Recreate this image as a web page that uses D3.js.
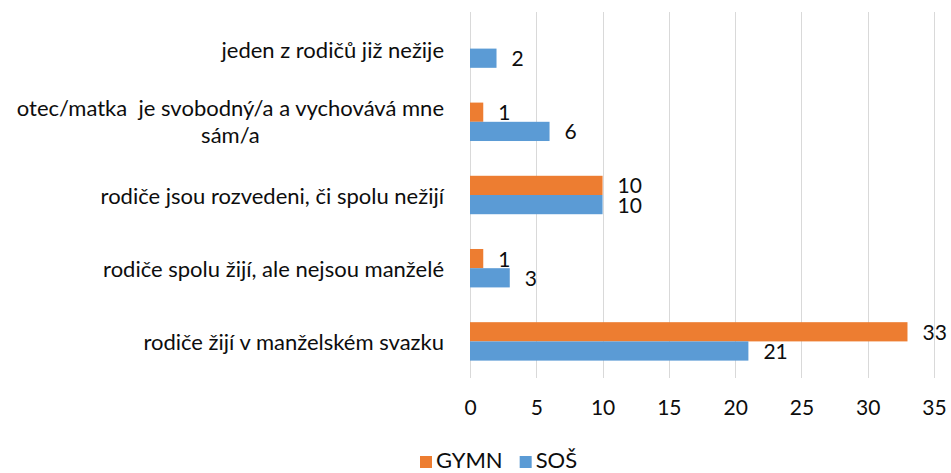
<!DOCTYPE html>
<html>
<head>
<meta charset="utf-8">
<script src="https://cdn.jsdelivr.net/npm/d3@7"></script>
<style>
  body { margin: 0; background: #fff; }
  text { font-family: Lato, "Open Sans", sans-serif; fill: #0d0d0d; }
</style>
</head>
<body>
<div id="chart"></div>
<script>
// data, top to bottom as drawn
const categories = [
  ['jeden z rodičů již nežije'],
  ['otec/matka  je svobodný/a a vychovává mne', 'sám/a'],
  ['rodiče jsou rozvedeni, či spolu nežijí'],
  ['rodiče spolu žijí, ale nejsou manželé'],
  ['rodiče žijí v manželském svazku']
];
const seriesNames = ['GYMN', 'SOŠ'];
const gymn = [null, 1, 10, 1, 33];
const sos = [2, 6, 10, 3, 21];
const xTicks = [0, 5, 10, 15, 20, 25, 30, 35];
const colors = ['#ED7D31', '#5B9BD5'];

const width = 951;
const height = 473;
const plot = { left: 470, right: 934, top: 12, bottom: 378 };
const fontSize = 22;

const svg = d3.select('#chart')
    .append('svg')
    .attr('width', width)
    .attr('height', height);

// scales
const x = d3.scaleLinear()
    .domain([0, 35])
    .range([plot.left, plot.right]);

const y = d3.scaleBand()
    .domain(d3.range(categories.length))
    .range([plot.top, plot.bottom])
    .paddingInner(0.475)
    .paddingOuter(0.2375);

const ySub = d3.scaleBand()
    .domain(seriesNames)
    .range([0, y.bandwidth()]);

// vertical gridlines
svg.append('g')
  .selectAll('line')
  .data(xTicks)
  .enter().append('line')
    .attr('x1', (d) => Math.round(x(d)) + 0.5)
    .attr('x2', (d) => Math.round(x(d)) + 0.5)
    .attr('y1', plot.top)
    .attr('y2', plot.bottom)
    .attr('stroke', '#d9d9d9')
    .attr('stroke-width', 1);

// x axis labels
const xAxis = d3.axisBottom(x).tickValues(xTicks).tickSize(0).tickPadding(0);
const gx = svg.append('g')
    .attr('transform', 'translate(0,' + (plot.bottom + 22) + ')')
    .call(xAxis);
gx.select('.domain').remove();
gx.selectAll('text')
    .attr('font-size', 21)
    .attr('font-family', 'Lato, "Open Sans", sans-serif')
    .attr('fill', '#0d0d0d');

// bars
const rows = categories.map((c, i) => ({ i: i, values: [gymn[i], sos[i]] }));

const groups = svg.selectAll('.group')
    .data(rows)
    .enter().append('g')
    .attr('class', 'group')
    .attr('transform', (d) => 'translate(0,' + y(d.i) + ')');

const cells = groups.selectAll('.cell')
    .data((d) => d.values.map((v, k) => ({ name: seriesNames[k], k: k, value: v }))
      .filter((e) => e.value !== null))
    .enter().append('g')
    .attr('class', 'cell');

cells.append('rect')
    .attr('x', x(0))
    .attr('y', (d) => ySub(d.name))
    .attr('width', (d) => x(d.value) - x(0))
    .attr('height', ySub.bandwidth())
    .attr('fill', (d) => colors[d.k]);

cells.append('text')
    .attr('x', (d) => x(d.value) + 15)
    .attr('y', (d) => ySub(d.name) + ySub.bandwidth() / 2 + 8)
    .attr('font-size', 21)
    .text((d) => d.value);

// category labels
const labels = svg.selectAll('.cat')
    .data(categories)
    .enter().append('text')
    .attr('class', 'cat')
    .attr('font-size', fontSize)
    .style('white-space', 'pre');

labels.each(function(lines, i) {
  const t = d3.select(this);
  const center = y(i) + y.bandwidth() / 2;
  if (lines.length === 1) {
    t.attr('text-anchor', 'end')
      .attr('x', 444)
      .attr('y', center + 9)
      .text(lines[0]);
  } else {
    // wrapped label: lines centred on each other, block right-aligned
    const first = t.append('tspan').text(lines[0]);
    const w = first.node().getComputedTextLength();
    const mid = 444 - w / 2;
    t.attr('text-anchor', 'middle');
    first.attr('x', mid).attr('y', center - 6);
    t.append('tspan').attr('x', mid).attr('y', center + 21).text(lines[1]);
  }
});

// legend
const legend = svg.append('g')
    .attr('transform', 'translate(420,456)');

let lx = 0;
seriesNames.forEach((name, k) => {
  legend.append('rect')
      .attr('x', lx)
      .attr('y', 0)
      .attr('width', 12)
      .attr('height', 12)
      .attr('fill', colors[k]);
  const txt = legend.append('text')
      .attr('x', lx + 16)
      .attr('y', 12)
      .attr('font-size', fontSize)
      .text(name);
  lx += 16 + txt.node().getComputedTextLength() + 17;
});
</script>
</body>
</html>
